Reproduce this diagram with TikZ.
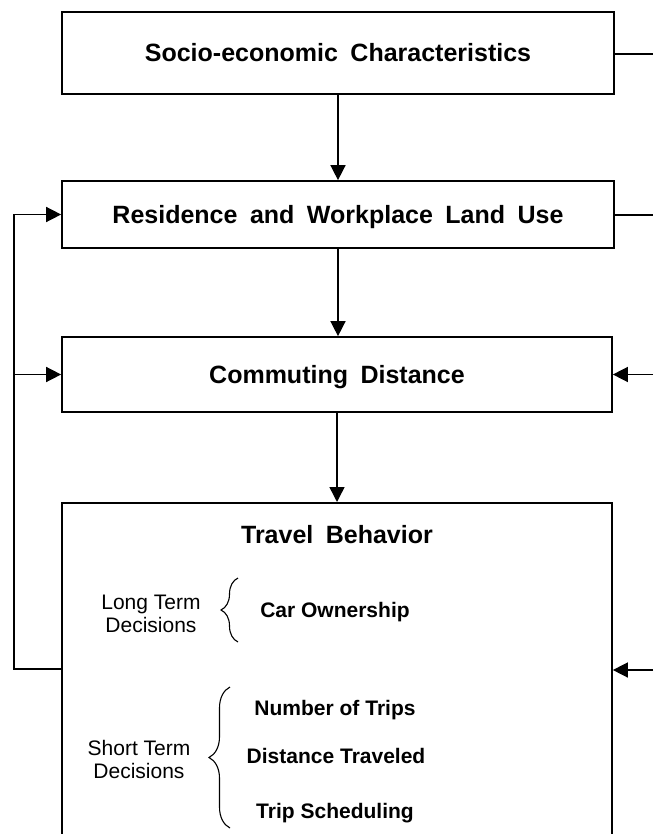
\documentclass[tikz,border=0pt]{standalone}
\usepackage{fontspec}
\setmainfont{Liberation Sans}
\newfontfamily\titlefont[WordSpace=1.8]{Liberation Sans}
\usetikzlibrary{arrows.meta,decorations.pathreplacing}
\begin{document}
\begin{tikzpicture}[x=1pt,y=-1pt,
  box/.style={draw,line width=1.7pt,inner sep=0pt,text height=17pt,text depth=0pt,
    font=\titlefont\fontsize{25}{30}\bfseries},
  ttl/.style={inner sep=0pt,anchor=base,font=\titlefont\fontsize{25}{30}\bfseries},
  lbl/.style={inner sep=0pt,align=center,font=\fontsize{21}{23}\selectfont},
  item/.style={inner sep=0pt,anchor=base,font=\fontsize{21}{25}\selectfont\bfseries},
  conn/.style={line width=1.5pt},
  arr/.style={conn,-{Triangle[length=15pt,width=15pt]}},
  brc/.style={decorate,decoration={brace,amplitude=#1},line width=1.1pt}
]
\clip (0,0) rectangle (653,834);
\fill[white] (0,0) rectangle (653,834);

\node[box,minimum width=552pt,minimum height=82pt] (sec) at (338,53) {Socio-economic Characteristics};
\node[box,minimum width=552pt,minimum height=67pt] (rwl) at (338,214.5) {Residence and Workplace Land Use};
\node[box,minimum width=550pt,minimum height=75pt] (cd) at (337,374.5) {Commuting Distance};
\node[draw,line width=1.7pt,inner sep=0pt,minimum width=550pt,minimum height=380pt,anchor=north] (tb) at (337,502) {};
\node[ttl] (tbt) at (337,543) {Travel Behavior};

\node[lbl] (lt) at (151,614) {Long Term\\Decisions};
\node[lbl] (st) at (139,759) {Short Term\\Decisions};
\node[item] (co) at (335,617) {Car Ownership};
\node[item] (nt) at (335,715) {Number of Trips};
\node[item] (dt) at (336,763) {Distance Traveled};
\node[item] (ts) at (335,818) {Trip Scheduling};

\draw[brc=17pt] (238,642) -- (238,578);
\draw[brc=21pt] (230,828) -- (230,687);

\draw[arr] (sec.south) -- (rwl.north);
\draw[arr] (rwl.south) -- (rwl.south |- cd.north);
\draw[arr] (cd.south) -- (tb.north);

\coordinate (r1) at (653,54);
\coordinate (r2) at (653,215);
\coordinate (r3) at (653,374.5);
\coordinate (r4) at (653,670);
\draw[conn] (sec.east |- r1) -- (r1);
\draw[conn] (rwl.east |- r2) -- (r2);
\draw[arr] (r3) -- (cd.east |- r3);
\draw[arr] (r4) -- (tb.east |- r4);

\coordinate (fb) at (14,669);
\draw[arr] (tb.west |- fb) -- (fb) |- (rwl.west);
\draw[arr] (fb |- cd.west) -- (cd.west);
\end{tikzpicture}
\end{document}
